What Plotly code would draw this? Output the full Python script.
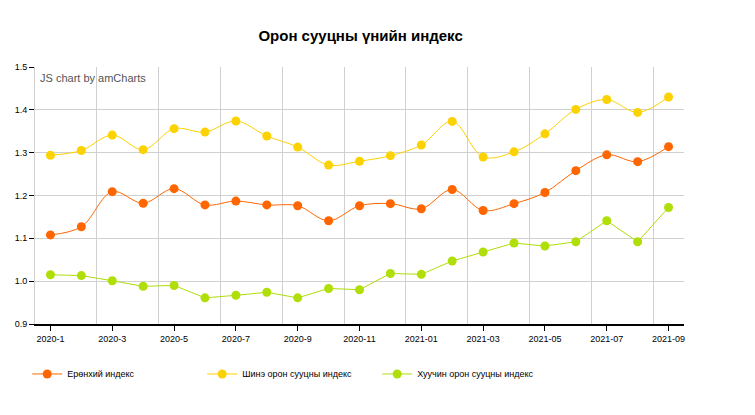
import plotly.graph_objects as go

months = ["2020-1", "2020-2", "2020-3", "2020-4", "2020-5", "2020-6", "2020-7",
          "2020-8", "2020-9", "2020-10", "2020-11", "2020-12", "2021-01", "2021-02",
          "2021-03", "2021-04", "2021-05", "2021-06", "2021-07", "2021-08", "2021-09"]

general = [1.108, 1.127, 1.209, 1.182, 1.216, 1.178, 1.187, 1.178, 1.176, 1.141, 1.176,
           1.181, 1.169, 1.214, 1.165, 1.181, 1.207, 1.258, 1.295, 1.279, 1.314]
new_flats = [1.294, 1.305, 1.341, 1.307, 1.356, 1.348, 1.374, 1.339, 1.313, 1.271, 1.280,
             1.293, 1.318, 1.373, 1.290, 1.302, 1.344, 1.401, 1.424, 1.394, 1.430]
old_flats = [1.015, 1.013, 1.001, 0.988, 0.990, 0.961, 0.967, 0.974, 0.961, 0.983, 0.980,
             1.018, 1.016, 1.047, 1.068, 1.089, 1.082, 1.092, 1.141, 1.092, 1.172]

names = ["Ерөнхий индекс", "Шинэ орон сууцны индекс", "Хуучин орон сууцны индекс"]
colors = ["#FF6600", "#FCD202", "#B0DE09"]


def main():
    idx = list(range(len(months)))
    fig = go.Figure()
    for vals, name, color, shape in zip([general, new_flats, old_flats], names, colors,
                                        ["spline", "spline", "linear"]):
        fig.add_trace(go.Scatter(
            x=idx, y=vals, name=name, mode="lines+markers",
            line=dict(color=color, width=1, shape=shape, smoothing=1.0),
            marker=dict(color=color, size=9),
        ))

    # page body adds an 8px offset, margins are trimmed to compensate
    fig.update_layout(
        width=755, height=415,
        margin=dict(l=27, r=79, t=59, b=99),
        plot_bgcolor="white", paper_bgcolor="white",
        font=dict(family="Liberation Sans, Arial, sans-serif", size=9, color="#000"),
        title=dict(text="<b>Орон сууцны үнийн индекс</b>", x=0.467, xanchor="center",
                   xref="container", yref="container",
                   y=0.934, yanchor="middle", font=dict(size=15, color="#000")),
        legend=dict(orientation="h", x=-0.012, y=-0.138, xanchor="left", yanchor="top",
                    entrywidth=130, font=dict(size=9, color="#000"), itemwidth=30),
        showlegend=True,
        annotations=[dict(text="JS chart by amCharts", xref="paper", yref="paper",
                          x=0.005, y=0.99, xanchor="left", yanchor="top", showarrow=False,
                          font=dict(size=11, color="#555"))],
    )
    fig.update_xaxes(
        range=[-0.5, len(months) - 0.5], automargin=False,
        tickvals=idx[::2], ticktext=months[::2],
        showgrid=False, ticks="outside", ticklen=5, tickcolor="#000",
        showline=True, linecolor="#000", linewidth=2,
        minor=dict(tick0=1.5, dtick=2, showgrid=True, gridcolor="#d0d0d0", ticklen=0),
        zeroline=False,
    )
    fig.update_yaxes(
        range=[0.9, 1.5], dtick=0.1, tickformat=".1f", automargin=False,
        showgrid=True, gridcolor="#d0d0d0",
        ticks="outside", ticklen=5, tickcolor="#000",
        showline=True, linecolor="#d0d0d0", linewidth=1,
        zeroline=False, mirror=False,
    )
    fig.write_html("out.html")


if __name__ == '__main__':
    main()
